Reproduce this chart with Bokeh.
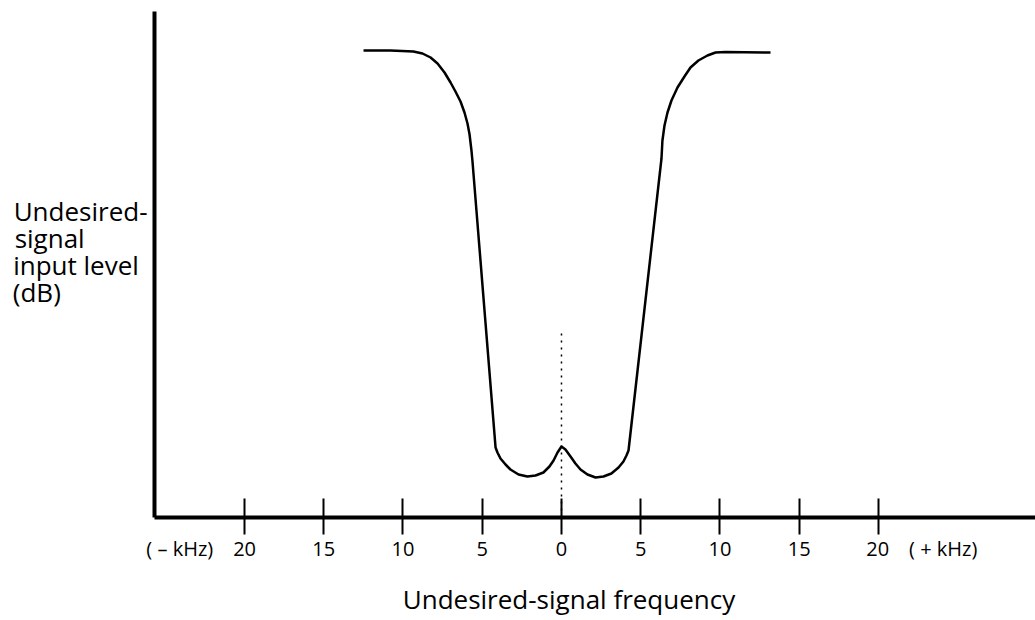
from bokeh.plotting import figure
from bokeh.models import FixedTicker, Range1d
from bokeh.embed import file_html
from bokeh.resources import INLINE

# Curve: frequency offset (kHz) vs. undesired-signal input level (relative units)
freq_khz = [-12.49, -10.79, -9.34, -8.77, -8.26, -7.82, -7.38, -7.00, -6.69, -6.37, -6.12,
            -5.93, -5.80, -5.68, -5.62,
            -4.16, -4.04, -3.85, -3.53, -3.22, -2.71, -2.15, -1.64, -1.14, -0.76, -0.50, -0.25, 0.0,
            0.25, 0.57, 0.88, 1.20, 1.64, 2.15, 2.65, 3.15, 3.60, 3.91, 4.10, 4.23,
            6.31, 6.37, 6.50, 6.69, 6.94, 7.32, 7.76, 8.14, 8.64, 9.21, 9.72, 10.35, 13.19]
level = [93.4, 93.4, 93.2, 92.8, 92.0, 90.8, 89.0, 87.0, 85.2, 83.2, 81.0,
         78.8, 76.6, 73.4, 71.4,
         14.0, 13.0, 11.8, 10.6, 9.6, 8.6, 8.2, 8.4, 9.0, 10.2, 11.4, 13.0, 14.2,
         13.6, 12.2, 10.8, 9.6, 8.6, 8.0, 8.2, 8.8, 10.0, 11.2, 12.4, 13.4,
         71.8, 75.4, 78.4, 81.0, 83.4, 86.0, 88.2, 90.0, 91.4, 92.4, 93.0, 93.1, 93.0]

# dotted centre marker
marker_x = [0.0, 0.0]
marker_y = [0.0, 36.8]

tick_khz = [-20, -15, -10, -5, 0, 5, 10, 15, 20]
tick_labels = ["20", "15", "10", "5", "0", "5", "10", "15", "20"]
neg_unit = "( – kHz)"
pos_unit = "( + kHz)"

y_title_lines = ["Undesired-", "signal", "input level", "(dB)"]
x_title = "Undesired-signal frequency"

FONT = "Open Sans"

# typographic spaces (fixed fractions of an em) used only to balance text blocks
EM, THIRD, QUARTER, SIXTH = "\u2003", "\u2004", "\u2005", "\u2006"

# end tick labels carry the unit; balanced so that the number stays on its tick
PAD = EM * 4 + THIRD
labels = dict(zip(tick_khz, tick_labels))
labels[-20] = neg_unit + EM + tick_labels[0] + PAD
labels[20] = PAD + tick_labels[-1] + EM + pos_unit

# y title: lines padded to equal width so the block reads left-aligned
y_pads = ["", EM * 2 + QUARTER + SIXTH, THIRD, EM * 3 + THIRD]
y_title = "\n".join(l + pad for l, pad in zip(y_title_lines, y_pads)) + "\n" + EM

p = figure(width=1035, height=620, output_backend="svg", toolbar_location=None,
           x_range=Range1d(-25.68, 29.91), y_range=Range1d(0, 101.2),
           min_border_left=154, min_border_right=0, min_border_top=11, min_border_bottom=103)
p.outline_line_color = None
p.xgrid.visible = False
p.ygrid.visible = False

p.xaxis.ticker = FixedTicker(ticks=tick_khz)
p.xaxis.major_label_overrides = labels
p.xaxis.axis_line_width = 4
p.xaxis.axis_line_color = "black"
p.xaxis.major_tick_in = 19
p.xaxis.major_tick_out = 17
p.xaxis.major_tick_line_width = 2
p.xaxis.major_tick_line_color = "black"
p.xaxis.minor_tick_line_color = None
p.xaxis.major_label_text_font = FONT
p.xaxis.major_label_text_font_size = "20px"
p.xaxis.major_label_text_color = "black"
p.xaxis.major_label_standoff = 0
# x title, shifted left of the frame centre with trailing space
p.xaxis.axis_label = x_title + EM + EM
p.xaxis.axis_label_text_font = FONT
p.xaxis.axis_label_text_font_size = "26px"
p.xaxis.axis_label_text_font_style = "normal"
p.xaxis.axis_label_text_color = "black"
p.xaxis.axis_label_standoff = 16

p.yaxis.ticker = FixedTicker(ticks=[])
p.yaxis.axis_line_width = 4
p.yaxis.axis_line_color = "black"
p.yaxis.major_tick_line_color = None
p.yaxis.minor_tick_line_color = None
p.yaxis.axis_label = y_title
p.yaxis.axis_label_orientation = "horizontal"
p.yaxis.axis_label_text_font = FONT
p.yaxis.axis_label_text_font_size = "26px"
p.yaxis.axis_label_text_font_style = "normal"
p.yaxis.axis_label_text_color = "black"
p.yaxis.axis_label_text_line_height = 0.75
p.yaxis.axis_label_standoff = 7

p.line(freq_khz, level, line_color="black", line_width=2.5, line_join="round")
p.line(marker_x, marker_y, line_color="black", line_width=1.5, line_dash="2 5")

open("out.html", "w").write(file_html(p, INLINE))
